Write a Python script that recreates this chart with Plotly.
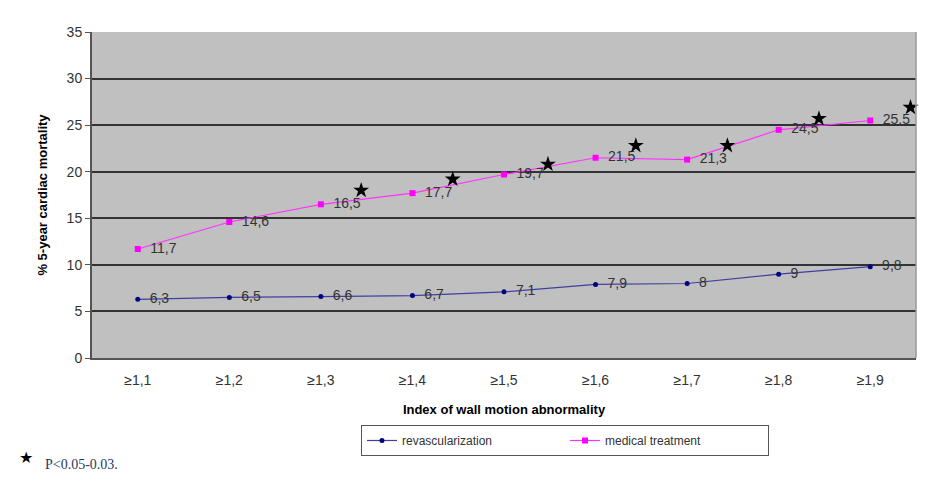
import plotly.graph_objects as go

categories = ["≥1,1", "≥1,2", "≥1,3", "≥1,4", "≥1,5", "≥1,6", "≥1,7", "≥1,8", "≥1,9"]
revasc = [6.3, 6.5, 6.6, 6.7, 7.1, 7.9, 8.0, 9.0, 9.8]
medical = [11.7, 14.6, 16.5, 17.7, 19.7, 21.5, 21.3, 24.5, 25.5]
revasc_labels = ["6,3", "6,5", "6,6", "6,7", "7,1", "7,9", "8", "9", "9,8"]
medical_labels = ["11,7", "14,6", "16,5", "17,7", "19,7", "21,5", "21,3", "24,5", "25,5"]
# significance stars (between categories)
star_x = [2.44, 3.44, 4.48, 5.44, 6.44, 7.44, 8.44]
star_y = [18.0, 19.2, 20.8, 22.8, 22.8, 25.7, 26.9]

xi = list(range(len(categories)))
font = "Arial, Liberation Sans, sans-serif"

fig = go.Figure()
fig.add_trace(go.Scatter(
    x=xi, y=revasc, mode="lines+markers+text", name="revascularization",
    line=dict(color="#3F3FA0", width=1.2),
    marker=dict(color="#000080", size=5, symbol="circle"),
    text=["  " + t for t in revasc_labels], textposition="middle right",
    textfont=dict(family=font, size=14, color="#333333"),
    cliponaxis=False,
))
fig.add_trace(go.Scatter(
    x=xi, y=medical, mode="lines+markers+text", name="medical treatment",
    line=dict(color="#FF33FF", width=1.2),
    marker=dict(color="#FF00FF", size=6, symbol="square"),
    text=["  " + t for t in medical_labels], textposition="middle right",
    textfont=dict(family=font, size=14, color="#333333"),
    cliponaxis=False,
))
fig.add_trace(go.Scatter(
    x=star_x, y=star_y, mode="markers", showlegend=False,
    marker=dict(symbol="star", size=12, color="black"),
    cliponaxis=False, hoverinfo="skip",
))

fig.update_layout(
    width=945, height=488,
    margin=dict(l=84, r=37, t=24, b=138, autoexpand=False),
    paper_bgcolor="white", plot_bgcolor="#C0C0C0",
    font=dict(family=font, size=13, color="#333333"),
    showlegend=True,
    legend=dict(orientation="h", x=0.574, xanchor="center", y=-0.2055, yanchor="top",
                bordercolor="#555555", borderwidth=1, bgcolor="white",
                font=dict(size=12, color="#333333"), itemwidth=30,
                entrywidth=158, tracegroupgap=0),
    xaxis=dict(
        range=[-0.5, 8.5], tickmode="array", tickvals=xi, ticktext=categories,
        showgrid=False, zeroline=False, ticks="", showline=True, linecolor="#555555",
        linewidth=2, mirror=False, automargin=False, ticklabelstandoff=8,
        title=dict(text="<b>Index of wall motion abnormality</b>", font=dict(size=13, color="black"), standoff=18),
        tickfont=dict(size=14, color="#333333"),
    ),
    yaxis=dict(
        range=[0, 35], dtick=5, showgrid=True, gridcolor="#333333", gridwidth=1.6,
        zeroline=False, ticks="outside", ticklen=5, tickcolor="#555555",
        showline=True, linecolor="#555555", linewidth=2, automargin=False,
        title=dict(text="<b>% 5-year cardiac mortality</b>", font=dict(size=13, color="black"), standoff=16),
        tickfont=dict(size=14, color="#333333"),
    ),
    shapes=[dict(type="line", xref="paper", yref="paper", x0=1, x1=1, y0=0, y1=1,
                 line=dict(color="#999999", width=1.5))],
    annotations=[
        dict(xref="paper", yref="paper", x=-0.091, y=-0.304, xanchor="left", yanchor="middle",
             text="★", showarrow=False, font=dict(size=16, color="black")),
        dict(xref="paper", yref="paper", x=-0.06, y=-0.328, xanchor="left", yanchor="middle",
             text="P<0.05-0.03.", showarrow=False,
             font=dict(family="Liberation Serif, Times New Roman, serif", size=14, color="#1F3864")),
    ],
)

fig.write_html("out.html")
